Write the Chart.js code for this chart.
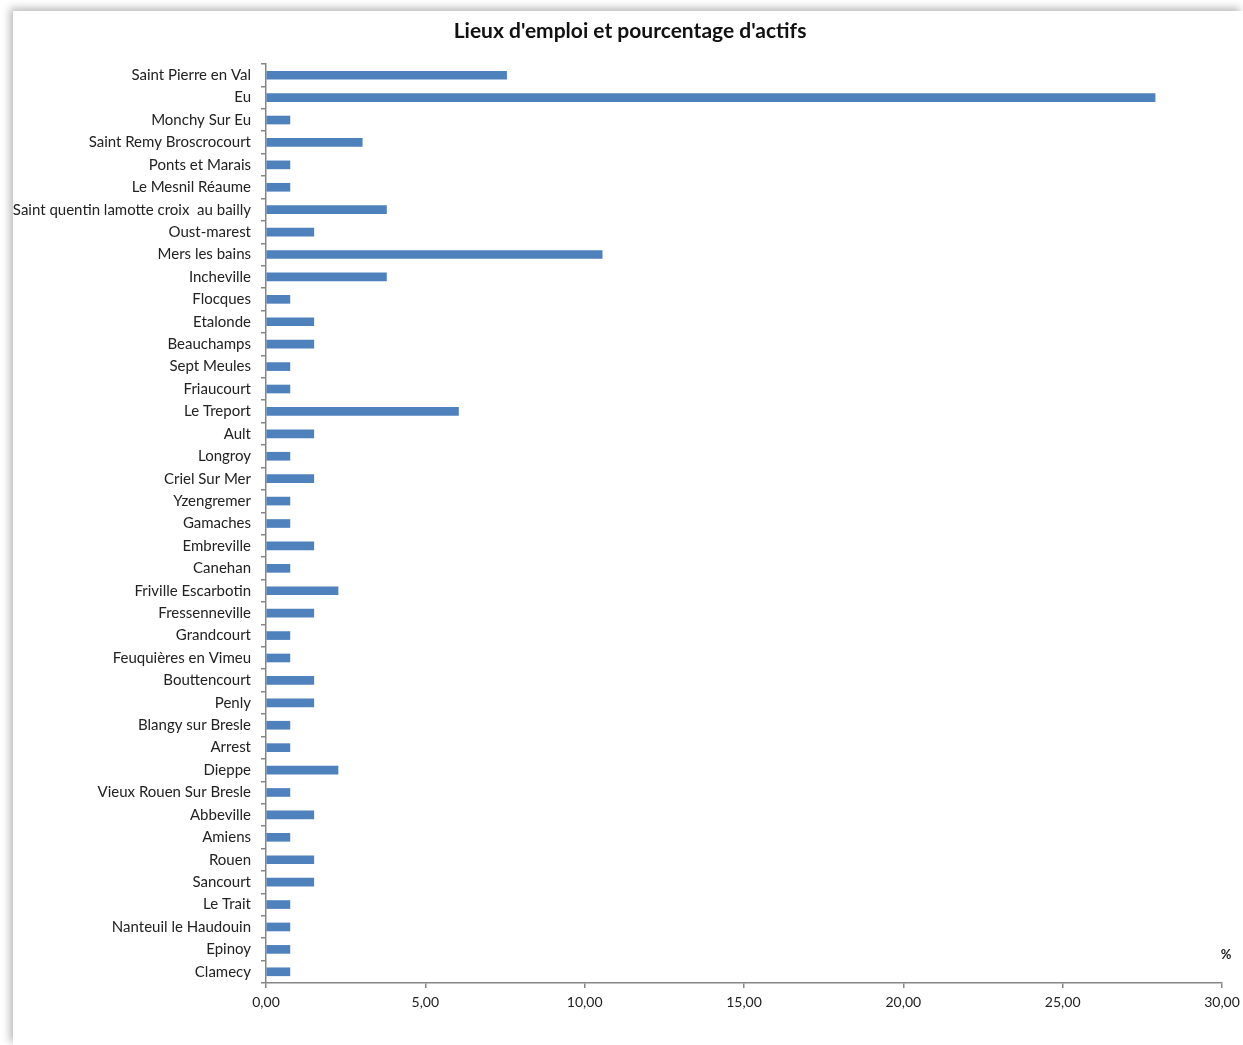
<!DOCTYPE html>
<html>
<head>
<meta charset="utf-8">
<script src="https://cdn.jsdelivr.net/npm/chart.js@4"></script>
<style>
  html, body { margin: 0; padding: 0; background: #fff; overflow: hidden; }
  #panel {
    position: absolute; left: 13px; top: 11px; right: 0; bottom: 0;
    background: #fff;
    box-shadow: -3px -3px 8px rgba(0, 0, 0, 0.28);
  }
  #wrap { position: absolute; left: 0; top: 0; width: 1243px; height: 1045px; }
</style>
</head>
<body>
<div id="panel"></div>
<div id="wrap"><canvas id="lieux"></canvas></div>
<script>
const communes = [
  'Saint Pierre en Val', 'Eu', 'Monchy Sur Eu', 'Saint Remy Broscrocourt', 'Ponts et Marais',
  'Le Mesnil Réaume', 'Saint quentin lamotte croix  au bailly', 'Oust-marest', 'Mers les bains',
  'Incheville', 'Flocques', 'Etalonde', 'Beauchamps', 'Sept Meules', 'Friaucourt', 'Le Treport',
  'Ault', 'Longroy', 'Criel Sur Mer', 'Yzengremer', 'Gamaches', 'Embreville', 'Canehan',
  'Friville Escarbotin', 'Fressenneville', 'Grandcourt', 'Feuquières en Vimeu', 'Bouttencourt',
  'Penly', 'Blangy sur Bresle', 'Arrest', 'Dieppe', 'Vieux Rouen Sur Bresle', 'Abbeville',
  'Amiens', 'Rouen', 'Sancourt', 'Le Trait', 'Nanteuil le Haudouin', 'Epinoy', 'Clamecy'
];
const pctActifs = [
  7.55, 27.9, 0.75, 3.02, 0.75,
  0.75, 3.78, 1.5, 10.55,
  3.78, 0.75, 1.5, 1.5, 0.75, 0.75, 6.04,
  1.5, 0.75, 1.5, 0.75, 0.75, 1.5, 0.75,
  2.26, 1.5, 0.75, 0.75, 1.5,
  1.5, 0.75, 0.75, 2.26, 0.75, 1.5,
  0.75, 1.5, 1.5, 0.75, 0.75, 0.75, 0.75
];
const xTicks = [0, 5, 10, 15, 20, 25, 30];
const chartTitle = "Lieux d'emploi et pourcentage d'actifs";

const axisGray = '#868686';
const fontFam = 'Lato, "Open Sans", sans-serif';

// title centred on the panel, and the "%" unit above the end of the x axis
const extraText = {
  id: 'extraText',
  afterDraw(chart) {
    const ctx = chart.ctx;
    const x = chart.scales.x;
    ctx.save();
    ctx.fillStyle = '#111';
    ctx.textAlign = 'center';
    ctx.textBaseline = 'middle';
    ctx.font = 'bold 21px ' + fontFam;
    ctx.fillText(chartTitle, 630, 31);
    ctx.font = 'bold 13px ' + fontFam;
    ctx.fillStyle = '#222';
    ctx.fillText('%', x.right + 4, chart.chartArea.bottom - 28);
    ctx.restore();
  }
};

const lieuxCtx = document.getElementById('lieux').getContext('2d');
const lieuxChart = new Chart(lieuxCtx, {
  type: 'bar',
  data: {
    labels: communes,
    datasets: [{
      label: "% d'actifs",
      data: pctActifs,
      backgroundColor: '#4f81bd',
      borderWidth: 0,
      barThickness: 8
    }]
  },
  plugins: [extraText],
  options: {
    indexAxis: 'y',
    responsive: true,
    maintainAspectRatio: false,
    animation: false,
    layout: { padding: { left: 0, right: 21, top: 64, bottom: 0 } },
    plugins: {
      legend: { display: false },
      tooltip: { enabled: false },
      title: { display: false }
    },
    scales: {
      x: {
        min: 0,
        max: 30,
        afterBuildTicks: (scale) => { scale.ticks = xTicks.map(v => ({ value: v })); },
        afterFit: (scale) => { scale.height = 62; scale.paddingRight = 0; scale.paddingLeft = 0; },
        border: { display: true, color: axisGray, width: 1.5 },
        grid: { drawOnChartArea: false, drawTicks: true, tickLength: 5, color: axisGray, lineWidth: 1.5 },
        ticks: {
          color: '#222',
          padding: 6,
          font: { family: fontFam, size: 14 },
          callback: (v) => Number(v).toFixed(2).replace('.', ',')
        }
      },
      y: {
        afterFit: (scale) => { scale.width = 266; scale.paddingTop = 0; scale.paddingBottom = 0; },
        border: { display: true, color: axisGray, width: 1.5 },
        grid: { offset: true, drawOnChartArea: false, drawTicks: true, tickLength: 5, color: axisGray, lineWidth: 1.5 },
        ticks: {
          color: '#222',
          padding: 10,
          autoSkip: false,
          font: { family: fontFam, size: 15 }
        }
      }
    }
  }
});
</script>
</body>
</html>
